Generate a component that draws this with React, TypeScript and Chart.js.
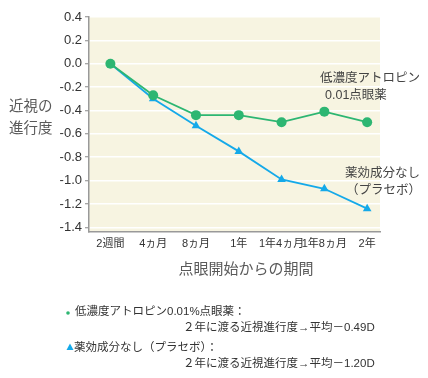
import React, { useEffect, useRef } from "react";
import { Chart, registerables } from "chart.js";

Chart.register(...registerables);

const xLabels = ["2週間", "4ヵ月", "8ヵ月", "1年", "1年4ヵ月", "1年8ヵ月", "2年"];
const atropine = [0, -0.27, -0.44, -0.44, -0.5, -0.41, -0.5];
const placebo = [0, -0.3, -0.53, -0.75, -0.99, -1.07, -1.24];
const yTicks = [0.4, 0.2, 0, -0.2, -0.4, -0.6, -0.8, -1.0, -1.2, -1.4];

const GREEN = "#2db672";
const BLUE = "#14a9e9";
const JP = "'Liberation Sans', 'Noto Sans CJK JP', sans-serif";

const textPlugin = {
  id: "texts",
  beforeDraw(chart: any) {
    const { ctx, chartArea } = chart;
    ctx.save();
    ctx.fillStyle = "#f7f4e1";
    ctx.fillRect(chartArea.left, chartArea.top, chartArea.right - chartArea.left, chartArea.bottom - chartArea.top);
    ctx.restore();
  },
  afterDraw(chart: any) {
    const { ctx } = chart;
    ctx.save();
    ctx.textBaseline = "middle";
    // y title
    ctx.fillStyle = "#5a5a5a";
    ctx.font = `14.5px ${JP}`;
    ctx.textAlign = "left";
    ctx.fillText("近視の", 9, 107);
    ctx.fillText("進行度", 9, 129);
    // x title
    ctx.font = `15px ${JP}`;
    ctx.textAlign = "center";
    ctx.fillText("点眼開始からの期間", 246, 270);
    // annotations
    ctx.fillStyle = "#444";
    ctx.font = `12.5px ${JP}`;
    ctx.textAlign = "left";
    ctx.fillText("低濃度アトロピン", 320, 79);
    ctx.fillText("0.01点眼薬", 325, 96);
    ctx.fillText("薬効成分なし", 345, 174);
    ctx.fillText("（プラセボ）", 346, 191);
    // notes
    ctx.font = `11.5px ${JP}`;
    ctx.fillStyle = GREEN;
    ctx.beginPath();
    ctx.arc(68, 313, 1.8, 0, Math.PI * 2);
    ctx.fill();
    ctx.fillStyle = "#333";
    ctx.fillText("低濃度アトロピン0.01%点眼薬：", 75, 312);
    ctx.fillText("２年に渡る近視進行度→平均－0.49D", 183, 328);
    ctx.fillStyle = BLUE;
    ctx.beginPath();
    ctx.moveTo(70, 343.5);
    ctx.lineTo(73.5, 350);
    ctx.lineTo(66.5, 350);
    ctx.closePath();
    ctx.fill();
    ctx.fillStyle = "#333";
    ctx.fillText("薬効成分なし（プラセボ）：", 74, 348);
    ctx.fillText("２年に渡る近視進行度→平均－1.20D", 183, 364);
    ctx.restore();
  },
};

export default function App() {
  const ref = useRef<HTMLCanvasElement>(null);
  useEffect(() => {
    if (!ref.current) return;
    const chart = new Chart(ref.current, {
      type: "line",
      data: {
        datasets: [
          {
            label: "低濃度アトロピン0.01%点眼薬",
            data: atropine.map((v, i) => ({ x: i, y: v })),
            borderColor: GREEN,
            backgroundColor: GREEN,
            borderWidth: 1.8,
            pointStyle: "circle",
            pointRadius: 5,
            pointBorderWidth: 0,
          },
          {
            label: "薬効成分なし（プラセボ）",
            data: placebo.map((v, i) => ({ x: i, y: v })),
            borderColor: BLUE,
            backgroundColor: BLUE,
            borderWidth: 1.8,
            pointStyle: "triangle",
            pointRadius: 5,
            pointBorderWidth: 0,
          },
        ],
      },
      options: {
        animation: false,
        responsive: false,
        layout: { padding: { left: 0, right: 48, top: 17, bottom: 0 } },
        plugins: { legend: { display: false }, tooltip: { enabled: false } },
        scales: {
          x: {
            type: "linear",
            min: -0.5,
            max: 6.3,
            afterBuildTicks: (s: any) => {
              s.ticks = xLabels.map((_, i) => ({ value: i }));
            },
            afterFit: (s: any) => {
              s.height = 146;
            },
            ticks: {
              callback: (v: any) => xLabels[v] ?? "",
              color: "#333",
              font: { size: 11, family: JP },
              maxRotation: 0,
              autoSkip: false,
              padding: 5,
            },
            grid: { display: false, drawTicks: false },
            border: { color: "#999", width: 1.5 },
          },
          y: {
            min: -1.44,
            max: 0.4,
            afterBuildTicks: (s: any) => {
              s.ticks = yTicks.map((v) => ({ value: v }));
            },
            afterFit: (s: any) => {
              s.width = 89;
            },
            ticks: {
              callback: (v: any) => Number(v).toFixed(1),
              color: "#333",
              font: { size: 13, family: JP },
              padding: 3,
            },
            grid: { color: "#ffffff", lineWidth: 1.5, tickColor: "#888", tickLength: 4, tickWidth: 1 },
            border: { color: "#999", width: 1.5 },
          },
        },
      },
      plugins: [textPlugin],
    });
    return () => chart.destroy();
  }, []);
  return (
    <div style={{ position: "absolute", left: 0, top: 0, width: 428, height: 378 }}>
      <canvas ref={ref} width={428} height={378} style={{ width: 428, height: 378 }} />
    </div>
  );
}
